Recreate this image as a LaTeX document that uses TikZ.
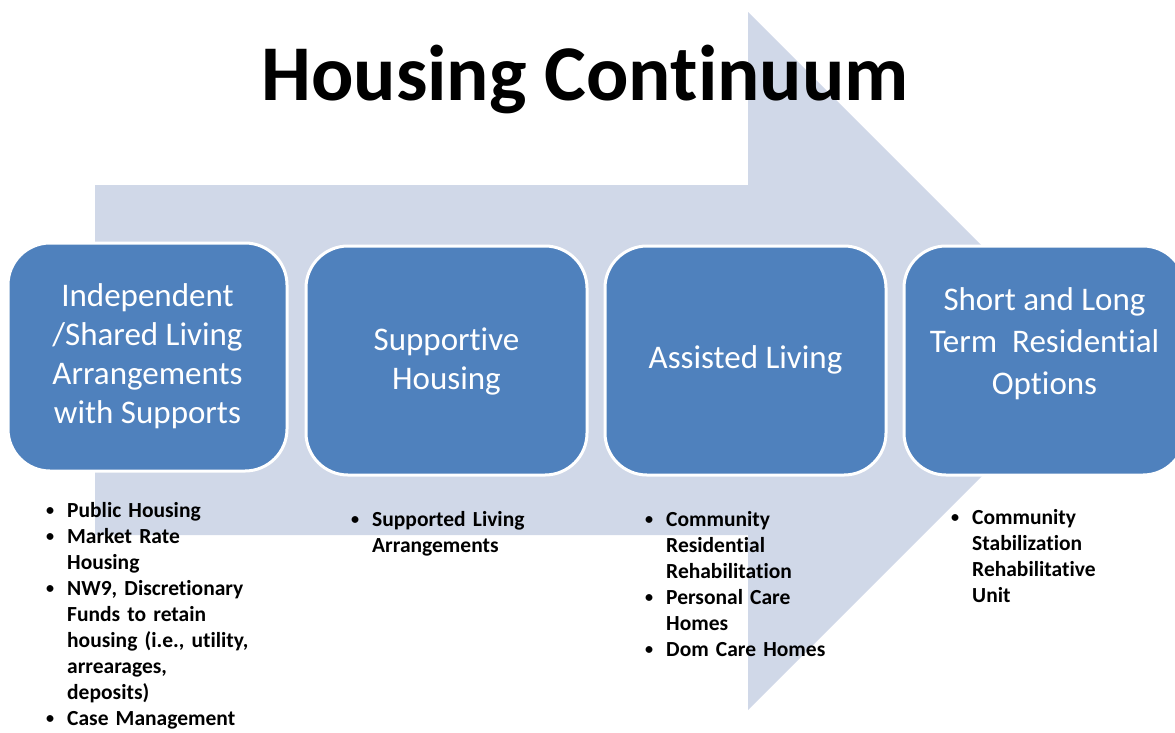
\documentclass[tikz,border=0pt]{standalone}
\usepackage{fontspec}
\setmainfont{Carlito}[Ligatures={NoCommon,NoRequired,NoContextual}]
\newfontfamily\listfont{Carlito}[Ligatures={NoCommon,NoRequired,NoContextual},WordSpace=0.8]
\definecolor{arrowfill}{HTML}{D0D8E8}
\definecolor{boxfill}{HTML}{4F81BD}
\tikzset{
 stagebox/.style={draw=white, line width=3pt, fill=boxfill, rounded corners=42pt, minimum width=279pt, minimum height=228pt, inner sep=0pt},
 stagetext/.style={text=white, align=center, font=\fontsize{33}{39}\selectfont, inner sep=0pt},
 bulletlist/.style={anchor=north west, align=left, inner sep=0pt, font=\listfont\bfseries\fontsize{21.5}{26}\selectfont, text width=250pt},
}
\newcommand\bitem[1]{\par\hangindent=22pt\hangafter=1\noindent\makebox[22pt][l]{\hspace{1pt}\raisebox{1.5pt}{\scalebox{0.75}{\textbullet}}}#1}
\begin{document}
\begin{tikzpicture}[x=1pt,y=-1pt]
\useasboundingbox (0,0) rectangle (1175,732);
% big background arrow
\path[fill=arrowfill] (95,185) -- (748,185) -- (748,12) -- (1097,361) -- (748,710) -- (748,535) -- (95,535) -- cycle;
% title
\node[anchor=base, inner sep=0pt, font=\bfseries\fontsize{79}{90}\selectfont] (title) at (585,100) {Housing Continuum};
% stage boxes
\node[stagebox] (b1) at (147.5,357) {};
\node[stagebox, minimum width=281pt, minimum height=229pt] (b2) at (446.5,360.5) {};
\node[stagebox, minimum width=281pt, minimum height=229pt] (b3) at (745.5,360.5) {};
\node[stagebox, minimum width=281pt, minimum height=229pt] (b4) at (1044.5,360.5) {};
% labels
\node[stagetext] (t1) at ([yshift=1pt]b1.center) {Independent\\/Shared Living\\Arrangements\\with Supports};
\node[stagetext] (t2) at ([yshift=-1pt]b2.center) {Supportive\\Housing};
\node[stagetext] (t3) at ([yshift=1pt]b3.center) {Assisted Living};
\node[stagetext, font=\fontsize{33}{42}\selectfont] (t4) at ([yshift=17pt]b4.center) {Short and Long\\Term\ \ Residential\\Options};
% bullet lists
\node[bulletlist] (l1) at (45,491) {%
\bitem{Public Housing}
\bitem{Market Rate\newline Housing}
\bitem{NW9, Discretionary\newline Funds to retain\newline housing (i.e., utility,\newline arrearages,\newline deposits)}
\bitem{Case Management}\par};
\node[bulletlist] (l2) at (350,500) {%
\bitem{Supported Living\newline Arrangements}\par};
\node[bulletlist] (l3) at (644,500) {%
\bitem{Community\newline Residential\newline Rehabilitation}
\bitem{Personal Care\newline Homes}
\bitem{Dom Care Homes}\par};
\node[bulletlist] (l4) at (950,498) {%
\bitem{Community\newline Stabilization\newline Rehabilitative\newline Unit}\par};
\end{tikzpicture}
\end{document}
